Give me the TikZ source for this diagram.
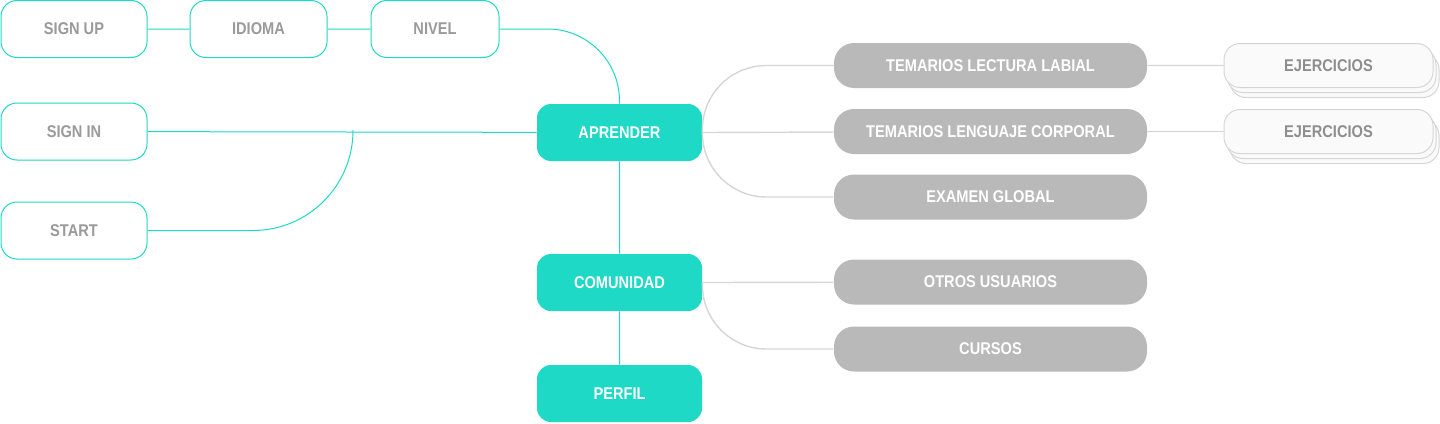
\documentclass[tikz,border=0pt]{standalone}
\usepackage{fontspec}
\setmainfont{Liberation Sans}[FakeStretch=0.86]
\usetikzlibrary{positioning,shadows}
\definecolor{menta}{HTML}{1DD9C6}
\definecolor{gristexto}{HTML}{9A9A9A}
\definecolor{grisbox}{HTML}{B9B9B9}
\definecolor{grislinea}{HTML}{D6D6D6}
\definecolor{grisejer}{HTML}{8E8E8E}

\begin{document}
\begin{tikzpicture}[x=0.5pt,y=-0.5pt,on grid,
    font=\fontsize{8.5}{10}\selectfont\bfseries,
    entry/.style={draw=menta,line width=0.5pt,fill=white,rounded corners=8pt,
      minimum width=73pt,minimum height=28.5pt,inner sep=0pt,text=gristexto},
    seccion/.style={fill=menta,rounded corners=7pt,
      minimum width=82.5pt,minimum height=28.5pt,inner sep=0pt,text=white},
    tema/.style={fill=grisbox,rounded corners=10pt,
      minimum width=156.5pt,minimum height=22.5pt,inner sep=0pt,text=white},
    ejer/.style={draw=grislinea,line width=0.5pt,fill={rgb,255:red,250;green,250;blue,250},
      rounded corners=8pt,minimum width=104.5pt,minimum height=22pt,inner sep=0pt,
      text=grisejer,double copy shadow={shadow xshift=1.5pt,shadow yshift=-2.5pt}},
    link/.style={draw=menta,line width=0.5pt},
    sublink/.style={draw=grislinea,line width=0.7pt}]
    \useasboundingbox (0,0) rectangle (1440,423);

    \node[entry]   (signup)                      at (74,29)      {SIGN UP};
    \node[entry,minimum width=68.5pt] (idioma) [right=92.25pt of signup] {IDIOMA};
    \node[entry,minimum width=64pt] (nivel) [right=88.25pt of idioma] {NIVEL};
    \node[entry]   (signin)                      at (74,131.5)   {SIGN IN};
    \node[entry]   (start)                       at (74,230.5)   {START};

    \node[seccion] (aprender)                    at (619.5,132.5) {APRENDER};
    \node[seccion] (comunidad) [below=75pt of aprender]           {COMUNIDAD};
    \node[seccion] (perfil)    [below=55.5pt of comunidad]        {PERFIL};

    \node[tema]    (lectura)                     at (990.5,65.5) {TEMARIOS LECTURA LABIAL};
    \node[tema]    (lenguaje)  [below=33pt of lectura]           {TEMARIOS LENGUAJE CORPORAL};
    \node[tema]    (examen)    [below=32.75pt of lenguaje]       {EXAMEN GLOBAL};
    \node[tema]    (usuarios)                    at (990.5,282)  {OTROS USUARIOS};
    \node[tema]    (cursos)    [below=33.5pt of usuarios]        {CURSOS};

    \node[ejer]    (ejer1)     [right=169pt of lectura]          {EJERCICIOS};
    \node[ejer]    (ejer2)     [right=169pt of lenguaje]         {EJERCICIOS};

    \coordinate (union) at (353,131.5);

    \path[link] (signup) -- (idioma)
                (idioma) -- (nivel)
                (signin) -- (aprender)
                (aprender) -- (comunidad)
                (comunidad) -- (perfil);
    \path[link,rounded corners=36pt] (nivel.east) -| (aprender.north);
    \path[link,rounded corners=50pt] (start.east) -| (union);

    \path[sublink] (lenguaje) -- (aprender.east)
                   (usuarios) -- (comunidad.east)
                   (lectura) -- (ejer1)
                   (lenguaje) -- (ejer2);
    \path[sublink,rounded corners=32pt] (aprender.east) |- (lectura)
                                        (aprender.east) |- (examen)
                                        (comunidad.east) |- (cursos);
\end{tikzpicture}
\end{document}
